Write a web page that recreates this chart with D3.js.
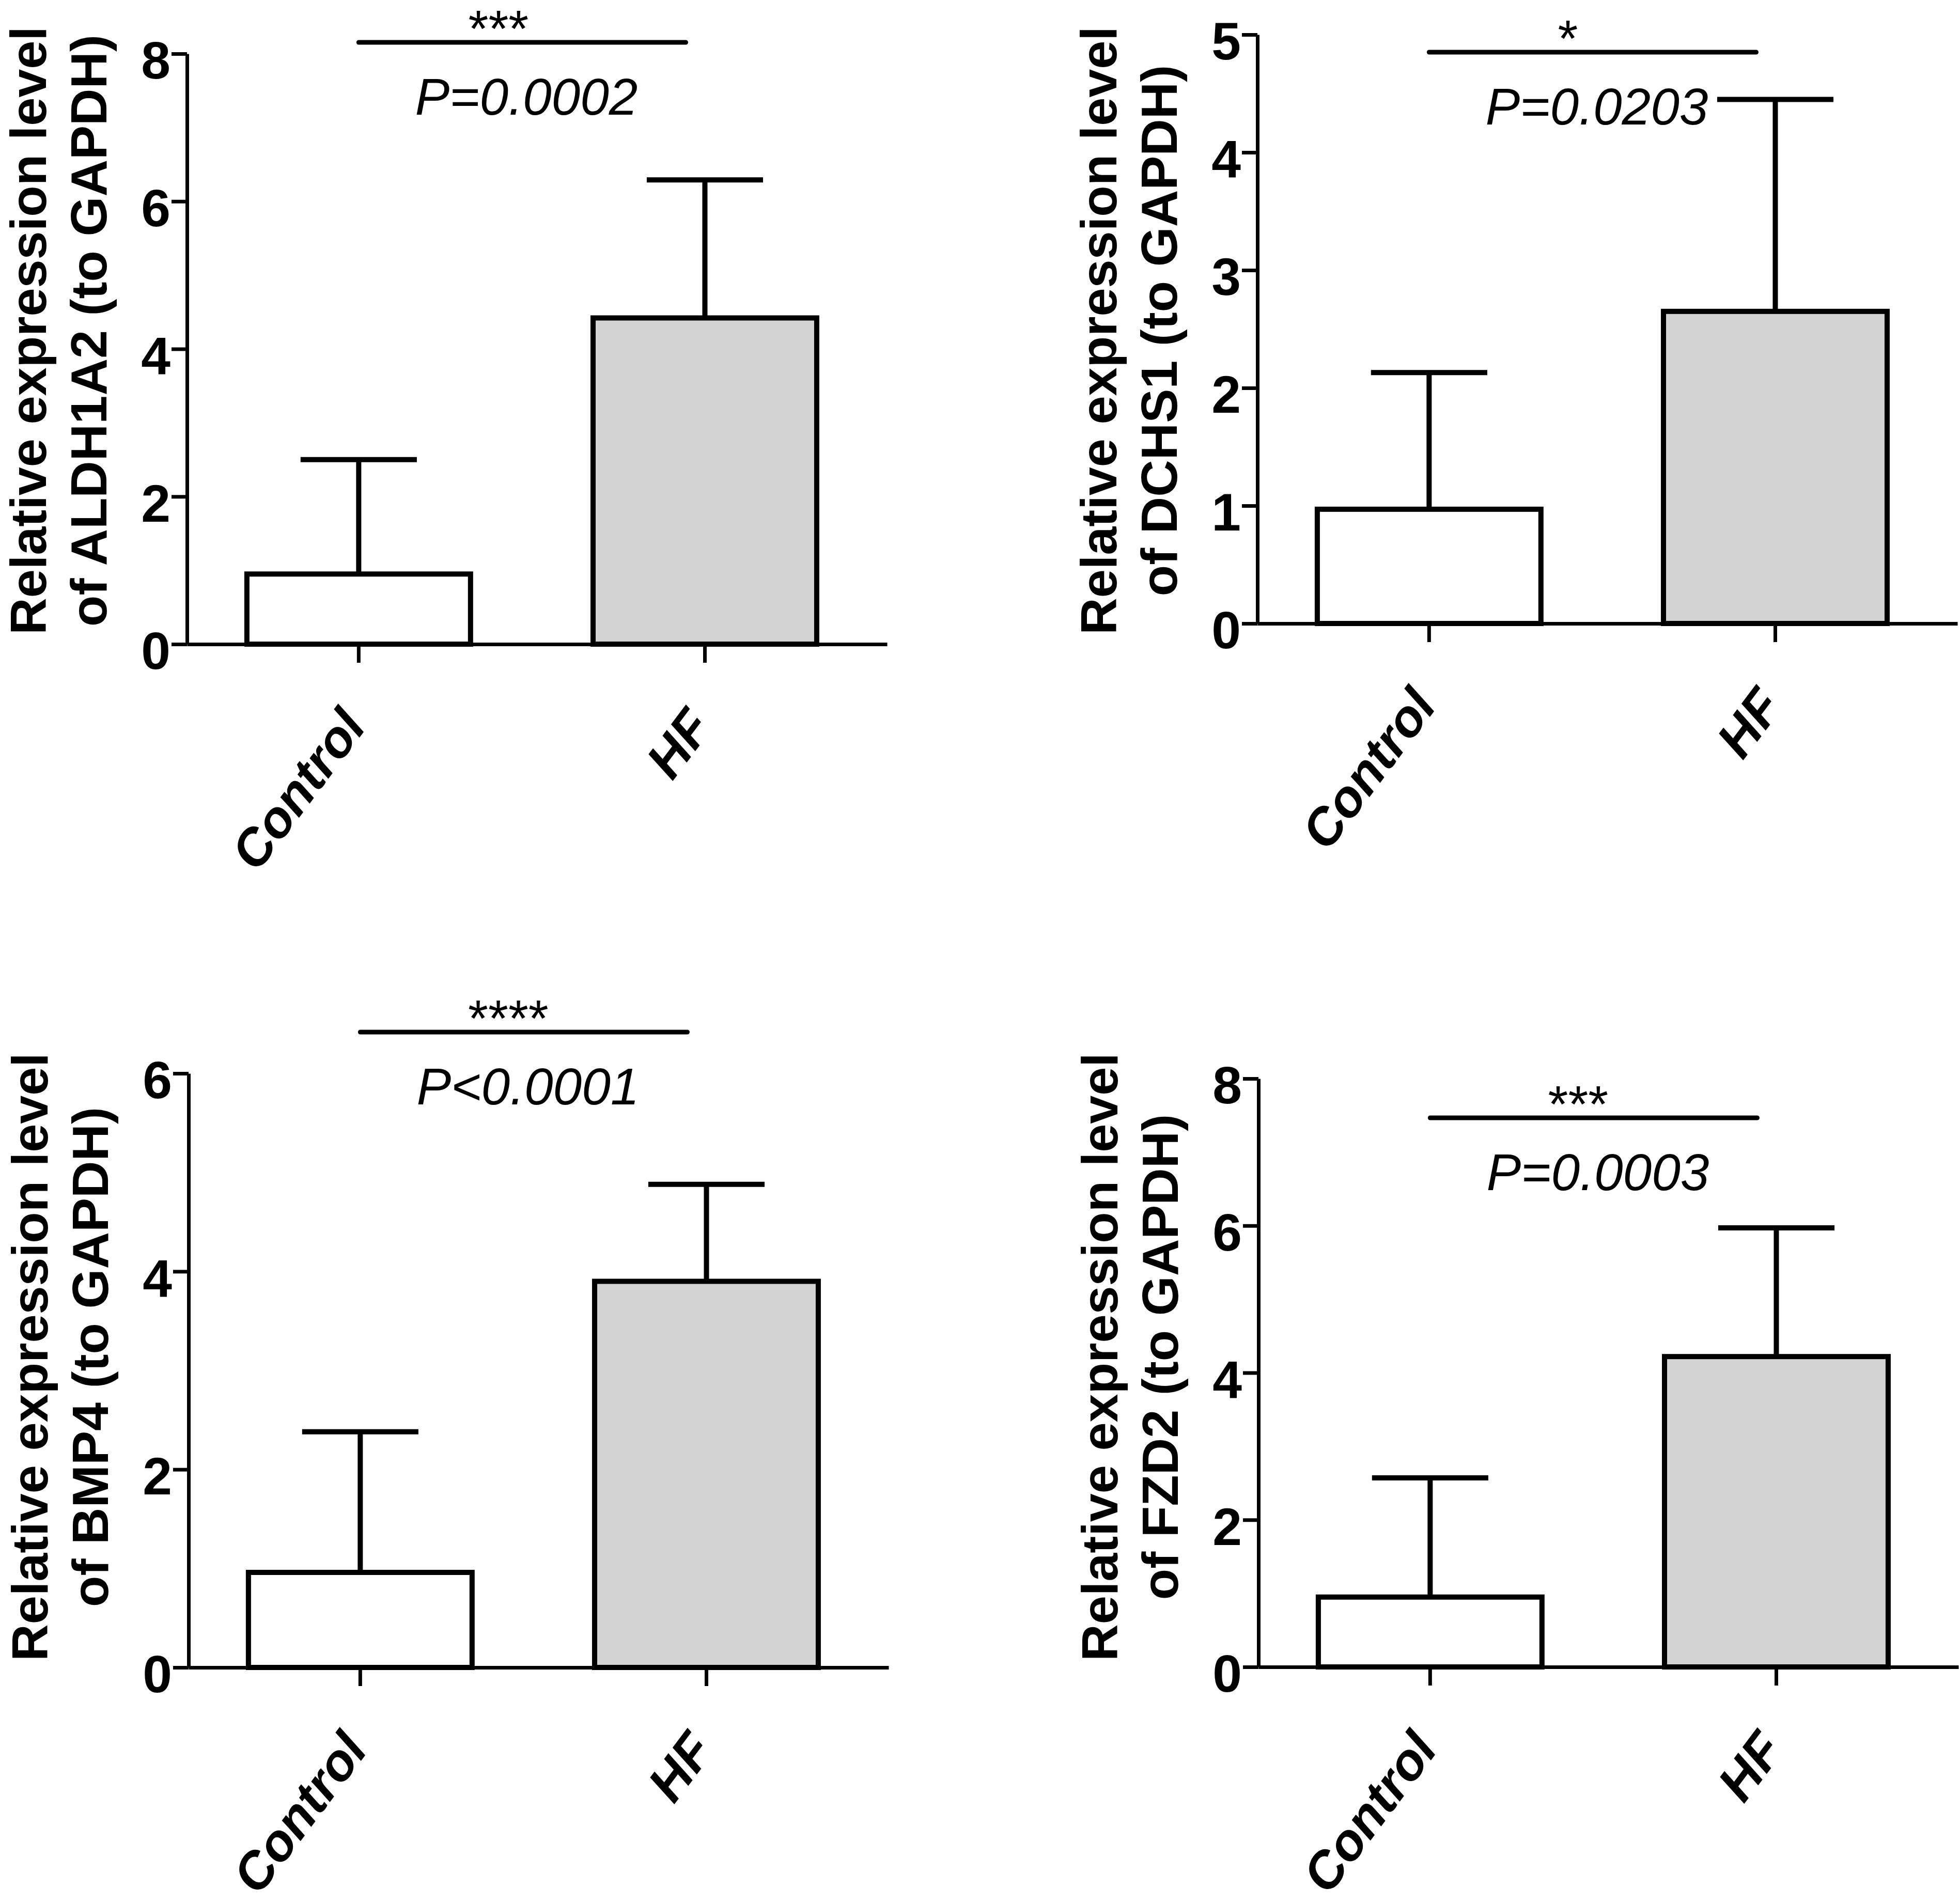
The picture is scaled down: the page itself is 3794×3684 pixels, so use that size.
<!DOCTYPE html>
<html>
<head>
<meta charset="utf-8">
<script src="https://cdn.jsdelivr.net/npm/d3@7"></script>
<style>
  body { margin: 0; background: #fff; }
</style>
</head>
<body>
<script>
// values
const categories = ["Control", "HF"];
const genes = ["ALDH1A2", "DCHS1", "BMP4", "FZD2"];
const meanControl = [0.95, 0.97, 0.96, 0.95];
const sdControl = [1.55, 1.16, 1.42, 1.62];
const meanHF = [4.42, 2.65, 3.90, 4.22];
const sdHF = [1.87, 1.80, 0.98, 1.75];
const yMax = [8, 5, 6, 8];
const yTicks = [[0, 2, 4, 6, 8], [0, 1, 2, 3, 4, 5], [0, 2, 4, 6], [0, 2, 4, 6, 8]];
const stars = ["***", "*", "****", "***"];
const pLabels = ["P=0.0002", "P=0.0203", "P<0.0001", "P=0.0003"];
const titleLine1 = "Relative expression level";

// panel placement on the page (pixels)
const layout = [
    {x: 362, y0: 1247, yTop: 104, titleY: 640, sigY: 82, starShift: -46},
    {x: 2434, y0: 1207, yTop: 67, titleY: 640, sigY: 101, starShift: -48},
    {x: 365, y0: 3228, yTop: 2078, titleY: 2627, sigY: 1998, starShift: -30},
    {x: 2436, y0: 3227, yTop: 2088, titleY: 2627, sigY: 2164, starShift: -30}
];

const W = 3794, H = 3684;
const FONT = '"Liberation Sans", Arial, Helvetica, sans-serif';
const axisLen = 1355;
const barFill = ["#ffffff", "#d3d3d3"];

const svg = d3.select("body").append("svg")
    .attr("width", W)
    .attr("height", H)
    .style("background", "#fff")
    .attr("font-family", FONT);

genes.forEach((gene, i) => drawPanel(i));

function drawPanel(i) {
    const L = layout[i];
    const g = svg.append("g").attr("class", "panel");

    const y = d3.scaleLinear().domain([0, yMax[i]]).range([L.y0, L.yTop]);
    const x = d3.scaleBand()
        .domain(categories)
        .range([L.x, L.x + axisLen])
        .paddingInner(0.354)
        .paddingOuter(0.188)
        .align(0.46);
    const bw = x.bandwidth();

    const vals = [
        {cat: categories[0], mean: meanControl[i], sd: sdControl[i]},
        {cat: categories[1], mean: meanHF[i], sd: sdHF[i]}
    ];

    // bars
    g.selectAll(".bar").data(vals).join("rect")
        .attr("class", "bar")
        .attr("x", d => x(d.cat))
        .attr("y", d => y(d.mean))
        .attr("width", bw)
        .attr("height", d => y(0) - y(d.mean))
        .attr("fill", (d, j) => barFill[j])
        .attr("stroke", "#000")
        .attr("stroke-width", 10);

    // upper error bars (mean + SD)
    g.selectAll(".err").data(vals).join("line")
        .attr("class", "err")
        .attr("x1", d => x(d.cat) + bw / 2)
        .attr("x2", d => x(d.cat) + bw / 2)
        .attr("y1", d => y(d.mean))
        .attr("y2", d => y(d.mean + d.sd))
        .attr("stroke", "#000")
        .attr("stroke-width", 10);

    g.selectAll(".cap").data(vals).join("line")
        .attr("class", "cap")
        .attr("x1", d => x(d.cat) + bw / 2 - bw * 0.26)
        .attr("x2", d => x(d.cat) + bw / 2 + bw * 0.26)
        .attr("y1", d => y(d.mean + d.sd))
        .attr("y2", d => y(d.mean + d.sd))
        .attr("stroke", "#000")
        .attr("stroke-width", 10);

    // y axis
    const yAxis = d3.axisLeft(y)
        .tickValues(yTicks[i])
        .tickSize(30)
        .tickSizeOuter(0)
        .tickPadding(2)
        .tickFormat(d3.format("d"));

    g.append("g")
        .attr("transform", `translate(${L.x},0)`)
        .call(yAxis)
        .attr("font-family", FONT)
        .call(a => a.select(".domain").attr("stroke-width", 7).attr("stroke", "#000"))
        .call(a => a.selectAll(".tick line").attr("stroke-width", 7).attr("stroke", "#000"))
        .call(a => a.selectAll(".tick text")
            .attr("font-size", 102)
            .attr("font-weight", "bold")
            .attr("fill", "#000")
            .attr("dy", "0.47em"));

    // x axis
    const xAxis = d3.axisBottom(x).tickSize(36).tickSizeOuter(0);

    g.append("g")
        .attr("transform", `translate(0,${L.y0})`)
        .call(xAxis)
        .attr("font-family", FONT)
        .call(a => a.select(".domain").attr("stroke-width", 7).attr("stroke", "#000"))
        .call(a => a.selectAll(".tick line").attr("stroke-width", 7).attr("stroke", "#000"))
        .call(a => a.selectAll(".tick text")
            .attr("x", 0).attr("y", 0).attr("dy", 0)
            .attr("text-anchor", "end")
            .attr("transform", "translate(17,160) rotate(-53)")
            .attr("font-size", 100)
            .attr("font-weight", "bold")
            .attr("font-style", "italic")
            .attr("fill", "#000"));

    // y axis title, two lines
    [titleLine1, `of ${genes[i]} (to GAPDH)`].forEach((t, k) => {
        g.append("text")
            .attr("transform", `translate(${L.x - 273 + k * 117},${L.titleY}) rotate(-90)`)
            .attr("text-anchor", "middle")
            .attr("font-size", 99)
            .attr("font-weight", "bold")
            .attr("fill", "#000")
            .text(t);
    });

    // significance bar
    const x1 = x(categories[0]) + bw / 2;
    const x2 = x(categories[1]) + bw / 2 - 37;
    const mid = (x1 + x2) / 2;

    g.append("line")
        .attr("x1", x1).attr("x2", x2)
        .attr("y1", L.sigY).attr("y2", L.sigY)
        .attr("stroke", "#000")
        .attr("stroke-width", 9)
        .attr("stroke-linecap", "round");

    g.append("text")
        .attr("x", mid + L.starShift)
        .attr("y", L.sigY + 8)
        .attr("text-anchor", "middle")
        .attr("font-size", 100)
        .attr("fill", "#000")
        .text(stars[i]);

    g.append("text")
        .attr("x", mid + 8)
        .attr("y", L.sigY + 140)
        .attr("text-anchor", "middle")
        .attr("font-size", 100)
        .attr("font-style", "italic")
        .attr("fill", "#000")
        .text(pLabels[i]);
}
</script>
</body>
</html>
